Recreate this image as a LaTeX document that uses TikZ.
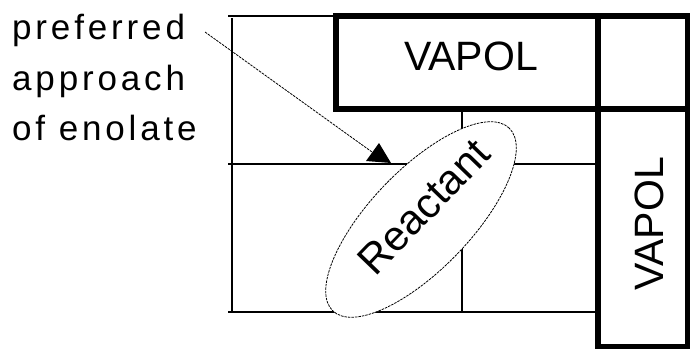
\documentclass[tikz,border=0pt]{standalone}
\usepackage{fontspec}
\setmainfont{Liberation Sans}
\newfontfamily\spacedfont{Liberation Sans}[LetterSpace=11]
\usetikzlibrary{shapes.geometric}
\begin{document}
\begin{tikzpicture}[x=1pt,y=-1pt,
  gridline/.style={line width=1.2pt,line cap=rect},
  thickbox/.style={line width=5.5pt,line join=miter},
  dotline/.style={line width=0.8pt,dash pattern=on 2.5pt off 1pt},
  lbl/.style={inner sep=0pt,anchor=base west,font=\spacedfont\fontsize{35}{40}\selectfont},
  bigtxt/.style={inner sep=0pt,font=\fontsize{41}{41}\selectfont}]
\useasboundingbox (0,0) rectangle (690,350);
\fill[white] (0,0) rectangle (690,350);
% thin grid
\draw[gridline] (229,16) -- (336,16);
\draw[gridline] (232,19) -- (232,312);
\draw[gridline] (229,164) -- (597,164);
\draw[gridline] (229,312) -- (597,312);
\draw[gridline] (462,109) -- (462,312);
% thick boxes
\draw[thickbox] (336,16) rectangle (688,109);
\draw[thickbox] (598,16) rectangle (688,346.5);
\node[bigtxt] (vapolh) at (471,56) {VAPOL};
\node[bigtxt,rotate=90] (vapolv) at (649,224) {VAPOL};
% ellipse
\node[ellipse,draw,fill=white,dotline,rotate=46,minimum width=254pt,minimum height=100pt,inner sep=0pt] (ell) at (421,219.5) {};
\node[inner sep=0pt,anchor=base,rotate=46,font=\fontsize{42}{42}\selectfont] (reactant) at (434,217) {Reactant};
% labels
\node[lbl] (l1) at (12,40) {preferred};
\node[lbl] (l2) at (12,91) {approach};
\node[lbl] (l3) at (12,140) {of enolate};
% arrow
\coordinate (from) at (205,32);
\coordinate (tip) at (372,152);
\draw[dotline] (from) -- (tip);
\fill (366,161) -- (379,143) -- (391,163) -- cycle;
\end{tikzpicture}
\end{document}
